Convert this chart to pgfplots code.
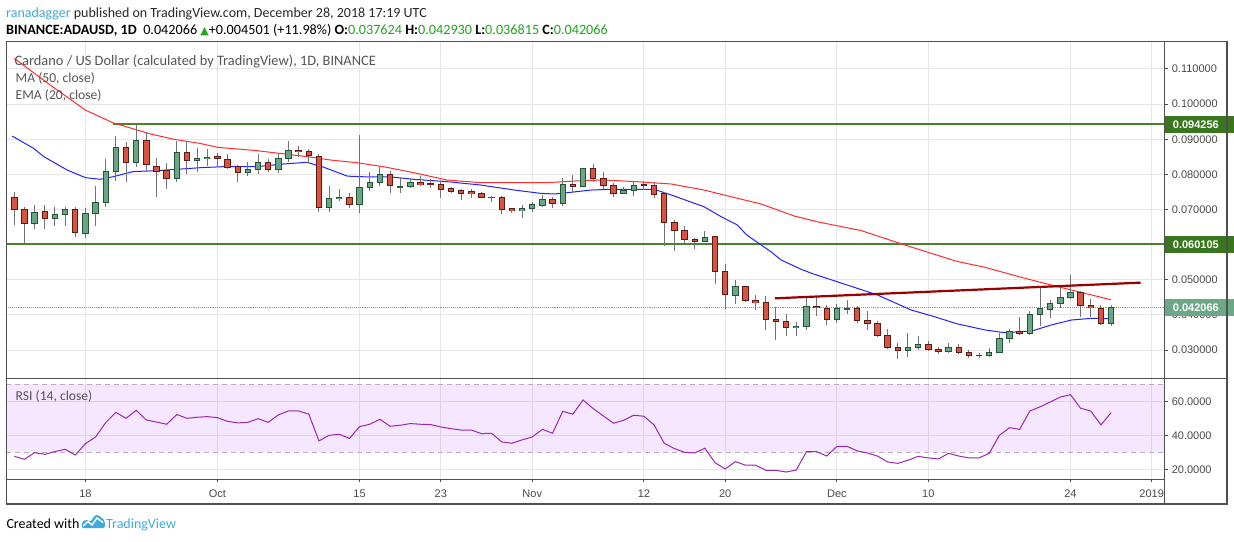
\documentclass[border=0pt]{standalone}
\usepackage{pgfplots}
\pgfplotsset{compat=1.18}
\usepackage{pgfplotstable}
\usepackage{fontspec}
\setmainfont{Carlito}
\newfontfamily\axisfont{Liberation Sans}
\newfontfamily\symfont{DejaVu Sans}

\definecolor{gfill}{RGB}{107,165,131}
\definecolor{gline}{RGB}{34,84,55}
\definecolor{rfill}{RGB}{215,84,66}
\definecolor{rline}{RGB}{91,26,19}
\definecolor{wick}{RGB}{115,115,117}
\definecolor{maline}{RGB}{255,45,45}
\definecolor{emaline}{RGB}{35,35,255}
\definecolor{hline}{RGB}{72,130,45}
\definecolor{trend}{RGB}{153,0,0}
\definecolor{boxdark}{RGB}{58,118,30}
\definecolor{boxlight}{RGB}{106,168,134}
\definecolor{gridc}{RGB}{230,230,230}
\definecolor{framec}{RGB}{80,80,80}
\definecolor{tickc}{RGB}{74,74,74}
\definecolor{legc}{RGB}{85,85,85}
\definecolor{rsic}{RGB}{156,39,176}
\definecolor{bandc}{RGB}{153,21,255}
\definecolor{dashc}{RGB}{185,170,190}
\definecolor{tvblue}{RGB}{64,170,220}
\definecolor{valgreen}{RGB}{34,163,34}

% rising days (close above open)
\pgfplotstableread{
d o h l c
-5 0.0661 0.0713 0.0646 0.0692
-3 0.0675 0.0706 0.0654 0.0686
-2 0.0686 0.0708 0.0654 0.0699
0 0.0632 0.0703 0.0620 0.0689
1 0.0689 0.0767 0.0654 0.0721
2 0.0721 0.0844 0.0708 0.0809
3 0.0809 0.0909 0.0782 0.0877
5 0.0834 0.0943 0.0820 0.0896
9 0.0789 0.0895 0.0779 0.0862
11 0.0839 0.0874 0.0808 0.0846
12 0.0845 0.0872 0.0825 0.0849
16 0.0806 0.0834 0.0796 0.0814
17 0.0814 0.0857 0.0800 0.0834
19 0.0814 0.0860 0.0805 0.0846
20 0.0846 0.0895 0.0834 0.0869
24 0.0705 0.0767 0.0694 0.0732
25 0.0731 0.0758 0.0725 0.0735
27 0.0715 0.0912 0.0691 0.0763
28 0.0763 0.0807 0.0754 0.0777
29 0.0777 0.0820 0.0767 0.0800
31 0.0765 0.0789 0.0746 0.0766
32 0.0765 0.0789 0.0760 0.0776
40 0.0734 0.0739 0.0720 0.0735
43 0.0697 0.0713 0.0677 0.0703
44 0.0703 0.0722 0.0694 0.0713
45 0.0711 0.0741 0.0708 0.0729
47 0.0718 0.0789 0.0711 0.0772
49 0.0766 0.0819 0.0765 0.0817
53 0.0746 0.0765 0.0743 0.0755
54 0.0755 0.0780 0.0739 0.0769
61 0.0609 0.0639 0.0608 0.0621
64 0.0456 0.0499 0.0431 0.0481
70 0.0364 0.0381 0.0340 0.0367
71 0.0367 0.0447 0.0357 0.0425
74 0.0387 0.0431 0.0378 0.0417
75 0.0417 0.0443 0.0403 0.0418
81 0.0299 0.0348 0.0281 0.0308
82 0.0308 0.0340 0.0300 0.0316
85 0.0296 0.0319 0.0293 0.0308
89 0.0285 0.0305 0.0281 0.0294
90 0.0294 0.0350 0.0292 0.0333
91 0.0333 0.0359 0.0321 0.0354
93 0.0348 0.0412 0.0343 0.0402
94 0.0402 0.0476 0.0369 0.0417
95 0.0416 0.0443 0.0392 0.0433
96 0.0433 0.0476 0.0421 0.0450
97 0.0450 0.0514 0.0444 0.0464
101 0.037624 0.042930 0.036815 0.042066
}\greens

% falling days (close below open)
\pgfplotstableread{
d o h l c
-7 0.0735 0.0751 0.0656 0.0699
-6 0.0701 0.0708 0.0602 0.0661
-4 0.0695 0.0713 0.0646 0.0675
-1 0.0699 0.0706 0.0621 0.0635
4 0.0877 0.0892 0.0779 0.0834
6 0.0896 0.0920 0.0810 0.0827
7 0.0822 0.0846 0.0737 0.0809
8 0.0811 0.0832 0.0759 0.0789
10 0.0862 0.0892 0.0800 0.0839
13 0.0851 0.0860 0.0820 0.0846
14 0.0843 0.0858 0.0814 0.0820
15 0.0822 0.0827 0.0779 0.0806
18 0.0834 0.0843 0.0808 0.0814
21 0.0869 0.0881 0.0850 0.0865
22 0.0866 0.0872 0.0832 0.0853
23 0.0851 0.0857 0.0694 0.0705
26 0.0735 0.0746 0.0705 0.0715
30 0.0800 0.0810 0.0746 0.0767
33 0.0776 0.0794 0.0767 0.0771
34 0.0773 0.0786 0.0760 0.0772
35 0.0772 0.0779 0.0734 0.0757
36 0.0759 0.0765 0.0748 0.0751
37 0.0753 0.0759 0.0727 0.0745
38 0.0750 0.0759 0.0734 0.0745
39 0.0746 0.0751 0.0732 0.0734
41 0.0735 0.0739 0.0687 0.0701
42 0.0702 0.0703 0.0691 0.0697
46 0.0729 0.0735 0.0705 0.0718
48 0.0772 0.0798 0.0746 0.0766
50 0.0817 0.0830 0.0779 0.0789
51 0.0789 0.0806 0.0757 0.0767
52 0.0769 0.0775 0.0737 0.0746
55 0.0770 0.0780 0.0755 0.0769
56 0.0769 0.0778 0.0734 0.0744
57 0.0746 0.0751 0.0597 0.0664
58 0.0664 0.0670 0.0583 0.0641
59 0.0641 0.0653 0.0601 0.0615
60 0.0615 0.0618 0.0587 0.0609
62 0.0624 0.0624 0.0489 0.0523
63 0.0524 0.0545 0.0416 0.0459
65 0.0481 0.0482 0.0437 0.0442
66 0.0440 0.0457 0.0413 0.0435
67 0.0435 0.0454 0.0358 0.0388
68 0.0388 0.0422 0.0329 0.0381
69 0.0382 0.0403 0.0340 0.0364
72 0.0425 0.0455 0.0397 0.0421
73 0.0419 0.0428 0.0371 0.0387
76 0.0418 0.0426 0.0376 0.0384
77 0.0385 0.0411 0.0357 0.0376
78 0.0377 0.0383 0.0338 0.0341
79 0.0342 0.0360 0.0302 0.0307
80 0.0308 0.0319 0.0274 0.0298
83 0.0316 0.0326 0.0297 0.0302
84 0.0302 0.0308 0.0289 0.0296
86 0.0308 0.0316 0.0290 0.0294
87 0.0294 0.0300 0.0278 0.0284
88 0.0286 0.0291 0.0278 0.0285
92 0.0354 0.0393 0.0343 0.0348
98 0.0464 0.0469 0.0395 0.0427
99 0.0427 0.0444 0.0395 0.0421
100 0.0418 0.0427 0.0370 0.0376
}\reds

\pgfplotstableread{
d v
-7 0.1130
-3.5 0.1055
0 0.0983
2.7 0.0947
6.4 0.0915
8.7 0.0900
11.3 0.0888
13 0.0877
16.9 0.08675
19.9 0.0857
21.8 0.08505
24.1 0.0841
26.8 0.0833
29.5 0.0821
32.3 0.0805
35.6 0.0784
38.9 0.07765
42.2 0.07765
45.5 0.07765
48.8 0.0782
51.1 0.0784
54.4 0.0779
57.7 0.07726
60.9 0.07555
64.2 0.0732
66.5 0.0716
69.8 0.06815
72.1 0.0665
76.4 0.0640
80.7 0.0599
85.8 0.05525
88.6 0.05355
91.9 0.0509
95.1 0.0485
97.8 0.0466
101 0.0443
}\matab

\pgfplotstableread{
d v
-7.2 0.0909
-5.1 0.0874
-4.1 0.08505
-1.8 0.08125
0 0.07907
1.45 0.0786
2.75 0.07935
4.7 0.0808
7.1 0.08106
9.0 0.08144
11.3 0.0819
13.6 0.0822
16.9 0.0822
19.5 0.08296
21.8 0.08343
23.5 0.0820
25.8 0.0795
27.6 0.0793
30 0.0793
32.3 0.0786
35.6 0.07793
38.9 0.07698
42.2 0.07556
44.8 0.07461
46.2 0.07442
47.8 0.0749
49.8 0.07555
51.7 0.07574
56.0 0.07574
57.7 0.07413
60.9 0.07081
62.6 0.06796
64.2 0.06559
65.1 0.0628
66.5 0.0600
67.5 0.0580
68.5 0.05564
70.5 0.05297
71.5 0.05185
74.7 0.04881
78.0 0.04568
81.3 0.04141
83.6 0.03951
85.8 0.0375
88.6 0.03572
90.5 0.03496
93.2 0.03543
95.1 0.03714
97.1 0.03856
99.1 0.03904
101 0.0389
}\ematab

\pgfplotstableread{
d v
-7 27.6
-6 25.9
-5 29.8
-4 28.8
-3 30.4
-2 31.8
-1 28.4
0 35.1
1 39.0
2 47.5
3 53.5
4 50.0
5 54.7
6 49.0
7 47.8
8 46.5
9 52.2
10 50.0
11 50.6
12 51.0
13 50.4
14 48.2
15 47.3
16 47.6
17 49.8
18 47.6
19 52.0
20 54.3
21 54.3
22 52.4
23 36.7
24 40.0
25 40.6
26 38.2
27 45.1
28 46.5
29 49.4
30 45.3
31 45.9
32 46.9
33 46.5
34 46.3
35 44.9
36 43.9
37 43.1
38 43.1
39 41.0
40 41.2
41 36.1
42 35.3
43 37.3
44 39.0
45 43.5
46 41.2
47 54.1
48 52.4
49 60.8
50 55.7
51 51.4
52 47.1
53 48.8
54 51.8
55 51.2
56 46.1
57 35.3
58 32.2
59 30.0
60 29.6
61 32.4
62 23.9
63 20.2
64 24.5
65 22.4
66 22.4
67 19.4
68 19.4
69 18.4
70 19.6
71 30.4
72 30.4
73 27.8
74 33.5
75 33.5
76 30.8
77 29.6
78 27.8
79 24.3
80 23.5
81 25.3
82 27.6
83 26.7
84 26.1
85 29.4
86 27.8
87 26.7
88 26.7
89 29.4
90 40.0
91 44.5
92 43.5
93 54.3
94 56.7
95 59.6
96 62.5
97 63.9
98 55.9
99 54.3
100 46.1
101 53.3
}\rsitab

\pgfplotsset{
  tvaxis/.style={
    scale only axis, width=1158pt,
    xmin=-7.79, xmax=106.24,
    clip mode=individual,
    axis line style={draw=none},
    xtick={0,13,27,35,44,55,63,74,83,97,105},
    ytick pos=right, yticklabel pos=right,
    tick align=outside, major tick length=4pt,
    ytick style={draw=framec, line width=1pt},
    grid=major, major grid style={draw=gridc, line width=1pt},
    tick label style={font=\axisfont\fontsize{11}{13}\selectfont, text=tickc},
  },
  seg/.style 2 args={draw=none, mark=none, mark size=0pt,
    error bars/y dir=both, error bars/y explicit,
    error bars/error mark=none,
    error bars/error bar style={draw=#1, line width=#2, solid}},
}

\begin{document}
\begin{tikzpicture}[x=1pt,y=1pt]
\path[use as bounding box, fill=white] (0,0) rectangle (1234,541);

% ---------- price panel ----------
\begin{axis}[tvaxis,
  at={(6.3pt,162.7pt)}, anchor=south west, height=336.6pt,
  ymin=0.02197, ymax=0.11776,
  xticklabels={}, xtick style={draw=none},
  ytick={0.03,0.04,0.05,0.06,0.07,0.08,0.09,0.10,0.11},
  scaled y ticks=false,
  yticklabel style={/pgf/number format/.cd, fixed, fixed zerofill, precision=6, assume math mode=true},
]
\addplot[hline, line width=2.4pt] coordinates {(2.75,0.094256) (106.24,0.094256)};
\addplot[hline, line width=2.4pt] coordinates {(-7.79,0.060105) (106.24,0.060105)};
\addplot[boxlight, densely dotted, line width=0.9pt] coordinates {(-7.79,0.042066) (106.24,0.042066)};
\addplot[maline, line width=1pt] table[x=d, y=v] {\matab};
\addplot[emaline, line width=1pt] table[x=d, y=v] {\ematab};
% wicks
\addplot[seg={wick}{1pt}] table[x=d, y expr={(\thisrow{h}+\thisrow{l})/2}, y error expr={(\thisrow{h}-\thisrow{l})/2}] {\greens};
\addplot[seg={wick}{1pt}] table[x=d, y expr={(\thisrow{h}+\thisrow{l})/2}, y error expr={(\thisrow{h}-\thisrow{l})/2}] {\reds};
% rising bodies
\addplot[seg={gline}{6.4pt}]
  table[x=d, y expr={(\thisrow{o}+\thisrow{c})/2}, y error expr={(\thisrow{c}-\thisrow{o})/2+0.000142}] {\greens};
\addplot[seg={gfill}{4.4pt}]
  table[x=d, y expr={(\thisrow{o}+\thisrow{c})/2}, y error expr={max((\thisrow{c}-\thisrow{o})/2-0.000142,0.000001)}] {\greens};
% falling bodies
\addplot[seg={rline}{6.4pt}]
  table[x=d, y expr={(\thisrow{o}+\thisrow{c})/2}, y error expr={(\thisrow{o}-\thisrow{c})/2+0.000142}] {\reds};
\addplot[seg={rfill}{4.4pt}]
  table[x=d, y expr={(\thisrow{o}+\thisrow{c})/2}, y error expr={max((\thisrow{o}-\thisrow{c})/2-0.000142,0.000001)}] {\reds};
% trend line
\addplot[trend, line width=2.2pt] coordinates {(67.9,0.04473) (103.9,0.04919)};
\coordinate (L1) at (axis cs:106.24,0.094256);
\coordinate (L2) at (axis cs:106.24,0.060105);
\coordinate (L3) at (axis cs:106.24,0.042066);
\end{axis}

% ---------- RSI panel ----------
\begin{axis}[tvaxis,
  at={(6.3pt,61.7pt)}, anchor=south west, height=101pt,
  ymin=14.12, ymax=73.53,
  ytick={20,40,60},
  xticklabels={18,Oct,15,23,Nov,12,20,Dec,10,24,2019},
  xtick pos=left, xticklabel pos=left,
  xtick style={draw=framec, line width=1pt, /pgfplots/major tick length=3pt},
  xticklabel style={yshift=-3pt},
  yticklabel style={/pgf/number format/.cd, fixed, fixed zerofill, precision=4, assume math mode=true},
]
\addplot[draw=none, fill=bandc, fill opacity=0.1] coordinates {(-7.79,30) (106.24,30) (106.24,70) (-7.79,70)};
\addplot[dashc, line width=1pt, dash pattern=on 5pt off 4pt] coordinates {(-7.79,70) (106.24,70)};
\addplot[dashc, line width=1pt, dash pattern=on 5pt off 4pt] coordinates {(-7.79,30) (106.24,30)};
\addplot[rsic, line width=1pt] table[x=d, y=v] {\rsitab};
\end{axis}

% ---------- price labels ----------
\foreach \c/\col/\t in {L1/boxdark/0.094256, L2/boxdark/0.060105, L3/boxlight/0.042066}{
  \node[fill=\col, text=white, anchor=west, inner xsep=8.4pt, inner ysep=0pt,
        minimum height=16.7pt, text width=53pt, align=left,
        font=\axisfont\bfseries\fontsize{11}{13}\selectfont] at (\c) {\t};
}

% ---------- frame ----------
\draw[framec, line width=1.3pt] (6.3,37) rectangle (1227,499.3);
\draw[framec, line width=1.3pt] (6.3,162.7) -- (1227,162.7);
\draw[framec, line width=1.3pt] (6.3,61.7) -- (1164.3,61.7);
\draw[framec, line width=1.3pt] (1164.3,37) -- (1164.3,499.3);

% ---------- texts ----------
\node[anchor=base west, inner sep=0, font=\fontsize{14}{17}\selectfont, text={rgb,255:red,40;green,40;blue,40}]
  at (6,523.7) {\textcolor{tvblue}{ranadagger} published on TradingView.com, December 28, 2018 17:19 UTC};
\node[anchor=base west, inner sep=0, font=\fontsize{14.2}{17}\selectfont, text=black]
  at (6,506.7) {\textbf{BINANCE:ADAUSD, 1D}\ \ 0.042066 {\symfont\fontsize{11}{13}\selectfont\textcolor{valgreen}{▲}}+0.004501 (+11.98\%) \textbf{O:}\textcolor{valgreen}{0.037624} \textbf{H:}\textcolor{valgreen}{0.042930} \textbf{L:}\textcolor{valgreen}{0.036815} \textbf{C:}\textcolor{valgreen}{0.042066}};
\node[anchor=base west, inner sep=0, font=\fontsize{14.4}{17}\selectfont, text=legc]
  at (14.3,475.3) {Cardano / US Dollar (calculated by TradingView), 1D, BINANCE};
\node[anchor=base west, inner sep=0, font=\fontsize{13.6}{16}\selectfont, text=legc]
  at (15.5,458.3) {MA (50, close)};
\node[anchor=base west, inner sep=0, font=\fontsize{13.6}{16}\selectfont, text=legc]
  at (15.5,441.7) {EMA (20, close)};
\node[anchor=base west, inner sep=0, font=\fontsize{13.6}{16}\selectfont, text=legc]
  at (15.5,140) {RSI (14, close)};

% footer
\node[anchor=base west, inner sep=0, font=\fontsize{14}{17}\selectfont, text=black]
  at (6.3,12.7) {Created with};
\fill[tvblue, rounded corners=2pt] (81.5,13) -- (81.5,18) -- (86,22) -- (90,19) -- (96,27) -- (101,24) -- (105,20) -- (105,13) -- cycle;
\draw[white, line width=1.4pt] (83,15) -- (88,19.5) -- (92,16) -- (97,23) -- (103,18.5);
\node[anchor=base west, inner sep=0, font=\fontsize{14}{17}\selectfont, text=tvblue]
  at (106,12.7) {TradingView};
\end{tikzpicture}
\end{document}
